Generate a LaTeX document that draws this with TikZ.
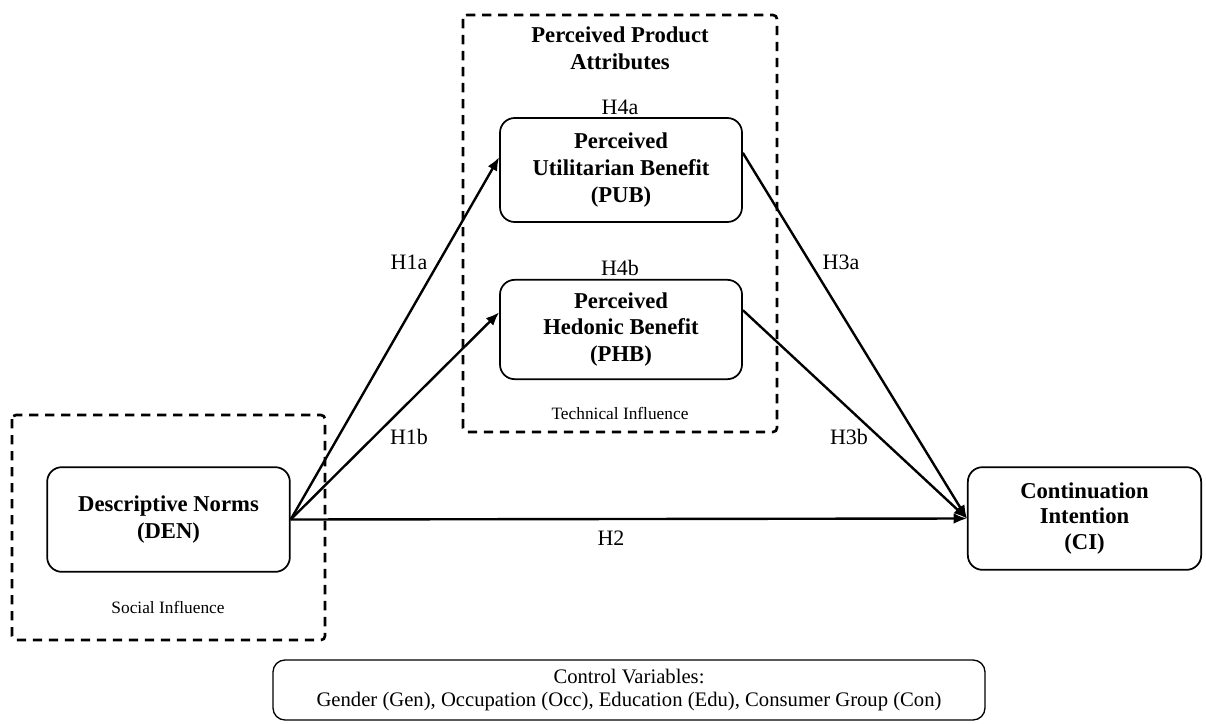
\documentclass[tikz,border=0pt]{standalone}
\usepackage{fontspec}
\setmainfont{Liberation Serif}
\usetikzlibrary{arrows.meta}

\begin{document}
\begin{tikzpicture}[x=0.75pt,y=0.75pt,yscale=-1,xscale=1,
  varbox/.style={draw,line width=1.3pt,rounded corners=11pt,align=center,inner sep=0pt,
    font=\fontsize{17}{20}\selectfont\bfseries},
  groupbox/.style={draw,line width=2pt,dash pattern=on 7pt off 5pt,rounded corners=3pt},
  hlabel/.style={inner sep=0.75pt,font=\fontsize{16.5}{19}\selectfont},
  grouplabel/.style={inner sep=0.75pt,font=\fontsize{13}{15}\selectfont},
  link/.style={line width=1.8pt,-{Latex[length=10pt,width=8pt]}}]
\path[use as bounding box] (0,0) rectangle (1206,724);

%Shape: Dashed Rectangle [Perceived Product Attributes]
\draw[groupbox] (463,15) rectangle (777,432);
%Shape: Dashed Rectangle [Social Influence]
\draw[groupbox] (12,415) rectangle (325,640);

% Text Node
\node[inner sep=0.75pt,align=center,font=\fontsize{17}{20}\selectfont\bfseries] (attr) at (620,48) {Perceived Product\\Attributes};
% Text Node
\node[grouplabel] (tech) at (620,413) {Technical Influence};
% Text Node
\node[grouplabel] (soc) at (168,607) {Social Influence};

%Shape: Rounded Rectangle [PUB]
\node[varbox,minimum width=181.5pt,minimum height=78pt] (pub) at (621,170) {Perceived\\Utilitarian Benefit\\(PUB)};
%Shape: Rounded Rectangle [PHB]
\node[varbox,minimum width=181.5pt,minimum height=74.5pt] (phb) at (621,329.5) {Perceived\\Hedonic Benefit\\(PHB)};
%Shape: Rounded Rectangle [DEN]
\node[varbox,minimum width=182pt,minimum height=78.5pt] (den) at (168.5,519.5) {Descriptive Norms\\(DEN)};
%Shape: Rounded Rectangle [CI]
\node[varbox,minimum width=175pt,minimum height=77pt,font=\fontsize{17}{19}\selectfont\bfseries] (ci) at (1084.5,518.5) {Continuation\\Intention\\(CI)};
%Shape: Rounded Rectangle [Control Variables]
\node[draw,line width=1pt,rounded corners=9pt,align=center,inner sep=0pt,
  minimum width=534pt,minimum height=45pt,font=\fontsize{15.5}{17.5}\selectfont] (ctrl) at (629,690)
  {Control Variables:\\Gender (Gen), Occupation (Occ), Education (Edu), Consumer Group (Con)};

% Text Node
\node[hlabel] (h4a) at (620,107) {H4a};
% Text Node
\node[hlabel] (h4b) at (620,268) {H4b};

%Arrows
\draw[link] (den.east) -- (pub.174);
\draw[link] (den.east) -- (phb.172);
\draw[link] (den.east) -- (ci.west);
\draw[link] (pub.8) -- (ci.west);
\draw[link] (phb.9) -- (ci.west);

% Text Node
\node[hlabel] (h1a) at (409,262) {H1a};
% Text Node
\node[hlabel] (h1b) at (409,437) {H1b};
% Text Node
\node[hlabel] (h2) at (611,538) {H2};
% Text Node
\node[hlabel] (h3a) at (841,262) {H3a};
% Text Node
\node[hlabel] (h3b) at (849,437) {H3b};

\end{tikzpicture}
\end{document}
